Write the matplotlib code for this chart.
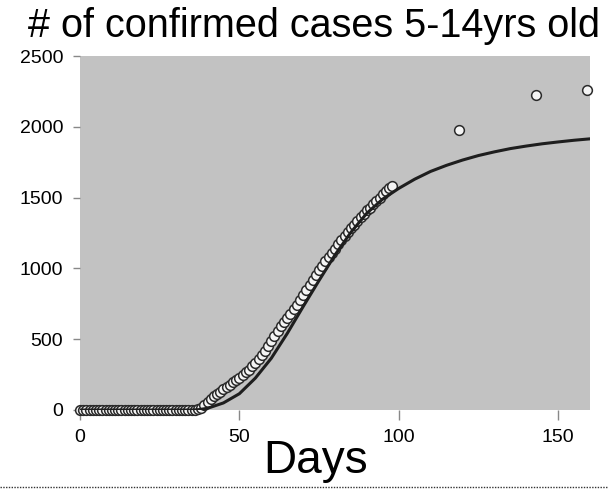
import matplotlib
matplotlib.use("Agg")
import matplotlib.pyplot as plt
from matplotlib.lines import Line2D
import numpy as np

plt.rcParams['font.family'] = ['Liberation Sans', 'DejaVu Sans']

# observed confirmed cases, one point per day (days 0..98)
obs_days = list(range(0, 99))
obs_cases = [0] * 37 + [
    5, 15, 35, 55, 80, 100, 115, 130, 145, 160,          # 37-46
    180, 195, 210, 225, 245, 265, 285, 310, 335, 360,    # 47-56
    390, 420, 455, 490, 525, 560, 590, 620, 650, 680,    # 57-66
    712, 745, 780, 815, 850, 885, 920, 955, 990, 1020,   # 67-76
    1050, 1080, 1110, 1140, 1170, 1200, 1230, 1260, 1285, 1310,  # 77-86
    1335, 1360, 1385, 1410, 1430, 1455, 1475, 1500, 1525, 1545,  # 87-96
    1565, 1585,                                          # 97-98
]

# later sparse observations
late_days = [119, 143, 159]
late_cases = [1980, 2225, 2260]

# fitted model curve
fit_days = [0, 35, 37, 40, 45, 50, 55, 60, 65, 70, 75, 80, 85, 90, 95, 100,
            105, 110, 115, 120, 125, 130, 135, 140, 145, 150, 155, 160]
fit_cases = [0, 0, 2, 12, 50, 115, 225, 365, 540, 730, 915, 1095, 1255, 1390,
             1490, 1565, 1630, 1685, 1728, 1765, 1797, 1823, 1846, 1864,
             1880, 1893, 1905, 1915]

xticks = [0, 50, 100, 150]
yticks = [0, 500, 1000, 1500, 2000, 2500]

fig = plt.figure(figsize=(6.08, 4.92), dpi=100)
ax = fig.add_axes([80 / 608, 82 / 492, 510 / 608, 354 / 492])
ax.set_facecolor('#c2c2c2')

ax.plot(obs_days, obs_cases, 'o', ms=7, mfc='#f4f4f4', mec='#2a2a2a',
        mew=1.1, zorder=3, clip_on=False)
ax.plot(late_days, late_cases, 'o', ms=7, mfc='#f4f4f4', mec='#2a2a2a',
        mew=1.1, zorder=3, clip_on=False)
ax.plot(fit_days, fit_cases, '-', color='#1e1e1e', lw=2.2, zorder=4)

ax.set_xlim(0, 160)
ax.set_ylim(0, 2500)
ax.set_xticks(xticks)
ax.set_yticks(yticks)
ax.tick_params(axis='x', direction='out', length=7, width=1, color='#888888',
               pad=7, labelsize=14)
ax.tick_params(axis='y', direction='out', length=5, width=1, color='#888888',
               pad=7, labelsize=14)
for s in ax.spines.values():
    s.set_visible(False)

fig.text(314 / 608, 1 - 26 / 492, '# of confirmed cases 5-14yrs old',
         ha='center', va='center', fontsize=28.5)
fig.text(316 / 608, 1 - 473 / 492, 'Days', ha='center', va='baseline',
         fontsize=33)

fig.add_artist(Line2D([0, 1], [1 - 487 / 492, 1 - 487 / 492],
                      transform=fig.transFigure, color='#333333', lw=1,
                      linestyle=(0, (1, 1))))

fig.savefig('out.png', dpi=100)
